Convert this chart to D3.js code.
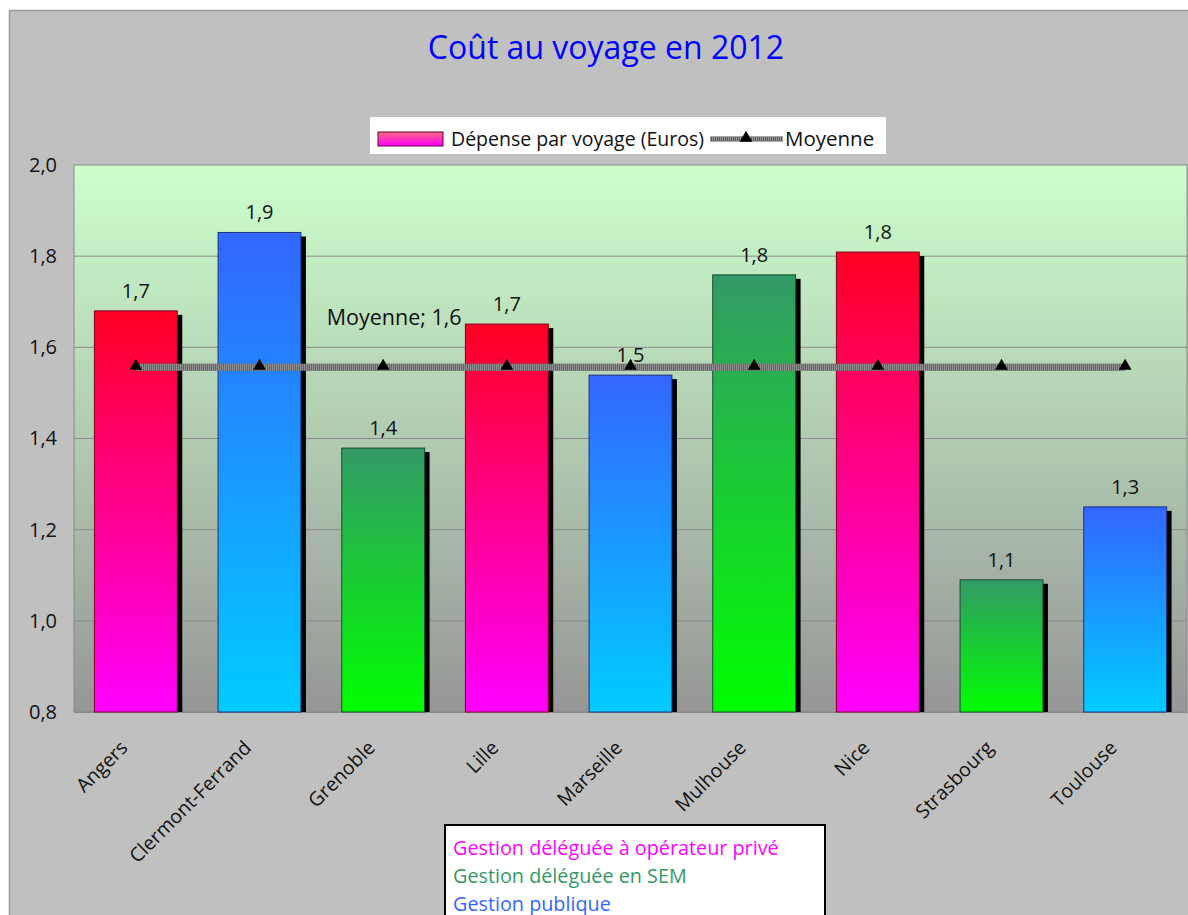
<!DOCTYPE html>
<html>
<head>
<meta charset="utf-8">
<script src="https://cdn.jsdelivr.net/npm/d3@7"></script>
<style>
  body { margin: 0; background: #fff; }
  text { font-family: "Open Sans", sans-serif; }
</style>
</head>
<body>
<svg></svg>
<script>
let width = 1188, height = 915;

// data
let cities = ["Angers", "Clermont-Ferrand", "Grenoble", "Lille", "Marseille", "Mulhouse", "Nice", "Strasbourg", "Toulouse"];
let cost = [1.68, 1.852, 1.379, 1.651, 1.539, 1.759, 1.809, 1.09, 1.25];
let gestion = ["prive", "publique", "sem", "prive", "publique", "sem", "prive", "sem", "publique"];
let yTicks = [0.8, 1.0, 1.2, 1.4, 1.6, 1.8, 2.0];
let groupNames = ["Gestion déléguée à opérateur privé", "Gestion déléguée en SEM", "Gestion publique"];
let groupKeys = ["prive", "sem", "publique"];

let moyenne = d3.mean(cost);
let fmt = v => d3.format(".1f")(v).replace(".", ",");

let svg = d3.select("svg")
    .attr("width", width)
    .attr("height", height);

let defs = svg.append("defs");

// gradients per management type (top colour, bottom colour)
let grad = {
    prive: ["#ff0022", "#ff00ff"],
    sem: ["#339966", "#00ff00"],
    publique: ["#3366ff", "#00ccff"]
};
let edge = { prive: "#800020", sem: "#1a4d33", publique: "#1a3380" };
let textCol = { prive: "#ff00ff", sem: "#339966", publique: "#3366ff" };

Object.keys(grad).forEach(k => {
    let g = defs.append("linearGradient").attr("id", "g_" + k)
        .attr("x1", 0).attr("y1", 0).attr("x2", 0).attr("y2", 1);
    g.append("stop").attr("offset", "0%").attr("stop-color", grad[k][0]);
    g.append("stop").attr("offset", "100%").attr("stop-color", grad[k][1]);
});

let bg = defs.append("linearGradient").attr("id", "plotbg")
    .attr("x1", 0).attr("y1", 0).attr("x2", 0).attr("y2", 1);
bg.append("stop").attr("offset", "0%").attr("stop-color", "#ccffcc");
bg.append("stop").attr("offset", "100%").attr("stop-color", "#969696");

let lg = defs.append("linearGradient").attr("id", "legsw")
    .attr("x1", 0).attr("y1", 0).attr("x2", 0).attr("y2", 1);
lg.append("stop").attr("offset", "0%").attr("stop-color", "#ff6680");
lg.append("stop").attr("offset", "100%").attr("stop-color", "#ff00ff");

// chart frame
svg.append("rect")
    .attr("x", 9.5).attr("y", 10.5)
    .attr("width", width).attr("height", height)
    .attr("fill", "#c0c0c0")
    .attr("stroke", "#999").attr("stroke-width", 1.5);

let x = d3.scaleBand()
    .domain(cities)
    .range([74, 1187])
    .paddingInner(0.33)
    .paddingOuter(0.165);

let y = d3.scaleLinear()
    .domain([0.8, 2.0])
    .range([712, 165]);

// plot area
svg.append("rect")
    .attr("x", 74).attr("y", 165)
    .attr("width", 1113).attr("height", 547)
    .attr("fill", "url(#plotbg)")
    .attr("stroke", "#888").attr("stroke-width", 1);

// gridlines
svg.append("g")
    .selectAll("line")
    .data(yTicks.slice(1, -1))
    .enter()
    .append("line")
    .attr("x1", 74).attr("x2", 1187)
    .attr("y1", d => y(d)).attr("y2", d => y(d))
    .attr("stroke", "#8c8c8c").attr("stroke-width", 1);

// y axis
let yAxis = svg.append("g")
    .attr("transform", "translate(74,0)")
    .call(d3.axisLeft(y).tickValues(yTicks).tickFormat(fmt).tickSize(0).tickPadding(17));
yAxis.select(".domain").remove();
yAxis.selectAll("text")
    .attr("font-size", 20)
    .attr("fill", "#111")
    .style("font-family", "'Open Sans', sans-serif");

// x axis labels
let xAxis = svg.append("g")
    .attr("transform", "translate(0,712)")
    .call(d3.axisBottom(x).tickSize(0));
xAxis.select(".domain").attr("stroke", "#888");
xAxis.selectAll("text")
    .attr("font-size", 19.5)
    .attr("fill", "#111")
    .style("font-family", "'Open Sans', sans-serif")
    .attr("text-anchor", "end")
    .attr("y", 0).attr("dy", 0)
    .attr("transform", "translate(-7,37) rotate(-45)");

// bar shadows
svg.append("g")
    .selectAll("rect")
    .data(cities)
    .enter()
    .append("rect")
    .attr("x", d => x(d) + 5)
    .attr("y", (d, i) => y(cost[i]) + 4)
    .attr("width", x.bandwidth())
    .attr("height", (d, i) => y(0.8) - y(cost[i]) - 4)
    .attr("fill", "#000");

// bars
svg.append("g")
    .selectAll("rect")
    .data(cities)
    .enter()
    .append("rect")
    .attr("x", d => x(d))
    .attr("y", (d, i) => y(cost[i]))
    .attr("width", x.bandwidth())
    .attr("height", (d, i) => y(0.8) - y(cost[i]))
    .attr("fill", (d, i) => "url(#g_" + gestion[i] + ")")
    .attr("stroke", (d, i) => edge[gestion[i]])
    .attr("stroke-width", 1);

// bar value labels
svg.append("g")
    .selectAll("text")
    .data(cities)
    .enter()
    .append("text")
    .attr("x", d => x(d) + x.bandwidth() / 2)
    .attr("y", (d, i) => y(cost[i]) - 13)
    .attr("text-anchor", "middle")
    .attr("font-size", 20)
    .attr("fill", "#111")
    .text((d, i) => fmt(cost[i]));

// mean line
let cx = d => x(d) + x.bandwidth() / 2;
let meanLine = d3.line().x(d => cx(d)).y(() => y(moyenne));
svg.append("path")
    .datum(cities)
    .attr("d", meanLine)
    .attr("fill", "none")
    .attr("stroke", "#5a5a5a").attr("stroke-width", 7);
svg.append("path")
    .datum(cities)
    .attr("d", meanLine)
    .attr("fill", "none")
    .attr("stroke", "#9a9a9a").attr("stroke-width", 7)
    .attr("stroke-dasharray", "1,1");

let tri = d3.symbol().type(d3.symbolTriangle).size(70);
svg.append("g")
    .selectAll("path")
    .data(cities)
    .enter()
    .append("path")
    .attr("d", tri)
    .attr("transform", d => "translate(" + cx(d) + "," + (y(moyenne) - 1) + ")")
    .attr("fill", "#000");

svg.append("text")
    .attr("x", cx("Grenoble") + 11)
    .attr("y", y(moyenne) - 42)
    .attr("text-anchor", "middle")
    .attr("font-size", 21.5)
    .attr("fill", "#111")
    .text("Moyenne; " + fmt(moyenne));

// title
svg.append("text")
    .attr("x", 606).attr("y", 59)
    .attr("text-anchor", "middle")
    .attr("font-size", 32)
    .attr("fill", "#0000ff")
    .text("Coût au voyage en 2012");

// legend
let leg = svg.append("g");
leg.append("rect")
    .attr("x", 370).attr("y", 117)
    .attr("width", 516).attr("height", 37)
    .attr("fill", "#fff");
leg.append("rect")
    .attr("x", 378).attr("y", 132)
    .attr("width", 65).attr("height", 14)
    .attr("fill", "url(#legsw)")
    .attr("stroke", "#600030").attr("stroke-width", 1);
leg.append("text")
    .attr("x", 451).attr("y", 146)
    .attr("font-size", 19.5)
    .attr("fill", "#111")
    .text("Dépense par voyage (Euros)");
leg.append("line")
    .attr("x1", 710).attr("x2", 783).attr("y1", 139).attr("y2", 139)
    .attr("stroke", "#5a5a5a").attr("stroke-width", 5);
leg.append("line")
    .attr("x1", 710).attr("x2", 783).attr("y1", 139).attr("y2", 139)
    .attr("stroke", "#9a9a9a").attr("stroke-width", 5)
    .attr("stroke-dasharray", "1,1");
leg.append("path")
    .attr("d", tri)
    .attr("transform", "translate(746,138)")
    .attr("fill", "#000");
leg.append("text")
    .attr("x", 785).attr("y", 146)
    .attr("font-size", 20.5)
    .attr("fill", "#111")
    .text("Moyenne");

// management type box
let box = svg.append("g");
box.append("rect")
    .attr("x", 445).attr("y", 825)
    .attr("width", 380).attr("height", 110)
    .attr("fill", "#fff")
    .attr("stroke", "#000").attr("stroke-width", 2);
box.selectAll("text")
    .data(groupKeys)
    .enter()
    .append("text")
    .attr("x", 453)
    .attr("y", (d, i) => 855 + i * 28)
    .attr("font-size", 19.8)
    .attr("fill", d => textCol[d])
    .text((d, i) => groupNames[i]);
</script>
</body>
</html>
